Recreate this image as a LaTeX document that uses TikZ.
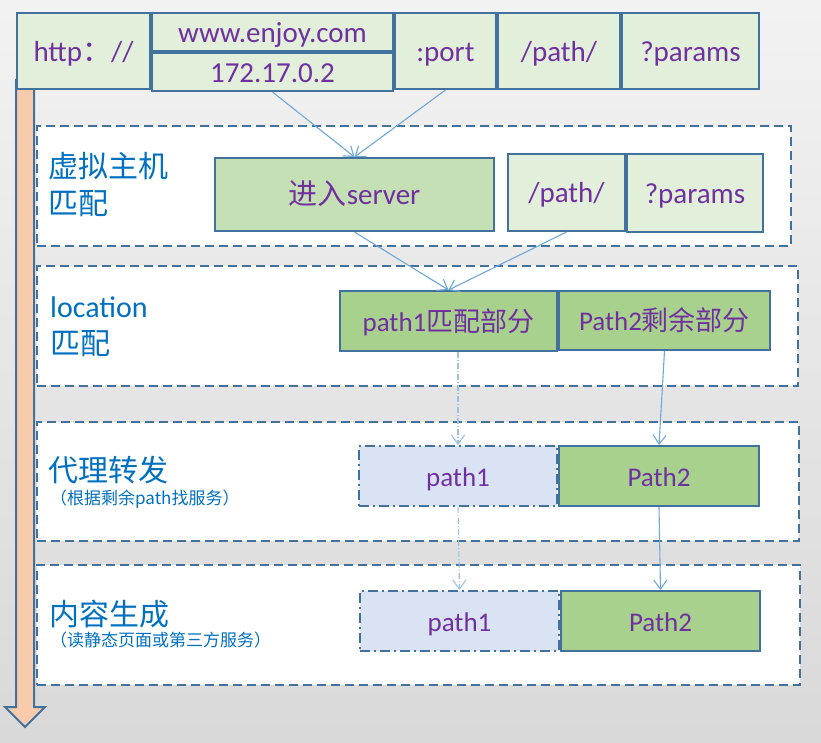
\documentclass[tikz,border=0pt]{standalone}
\usepackage{fontspec}
\setmainfont{Carlito}
\newfontfamily\cjk{Noto Sans CJK SC}
\usetikzlibrary{positioning, arrows.meta}
\definecolor{edgeblue}{HTML}{41719C}
\definecolor{txtpurple}{HTML}{7030A0}
\definecolor{lblblue}{HTML}{0070C0}
\definecolor{lgreen}{HTML}{E2EFDA}
\definecolor{mgreen}{HTML}{C5E0B4}
\definecolor{dgreen}{HTML}{A9D18E}
\definecolor{lblue}{HTML}{DAE3F3}
\definecolor{arrowblue}{HTML}{6FA8DC}
\definecolor{axisorange}{HTML}{F8CBAD}
\tikzset{main node/.style={rectangle, draw=edgeblue, line width=2pt, inner sep=0pt, anchor=north west, text=txtpurple, text height=25pt, text depth=4pt, font=\fontsize{29}{31}\selectfont},
url node/.style={main node, fill=lgreen},
part node/.style={main node, fill=dgreen, text height=23pt, text depth=3pt, font=\fontsize{27}{29}\selectfont},
rest node/.style={part node, fill=lblue, dash pattern=on 10pt off 4pt on 2pt off 4pt},
layer node/.style={rectangle, draw=edgeblue, line width=2pt, fill=white, inner sep=0pt, anchor=north west, dash pattern=on 9pt off 5pt},
layer label/.style={anchor=north west, inner sep=0pt, align=left, text=lblblue, font=\cjk\fontsize{30}{37}\selectfont},
layer note/.style={anchor=north west, inner sep=0pt, text=lblblue, font=\cjk\fontsize{17}{19}\selectfont},
flow line/.style={draw=arrowblue, line width=1.1pt, -{Straight Barb[length=9pt,width=13pt]}},
flow dotted/.style={flow line, draw=arrowblue!70, dash pattern=on 6pt off 2pt on 1pt off 2pt},}

\begin{document}
\begin{tikzpicture}[x=1pt, y=-1pt]
        \useasboundingbox (0,0) rectangle (821,743);
        \shade[top color=black!5, bottom color=black!15] (0,0) rectangle (821,743);
        % Layers
        \node[layer node, minimum width=754pt, minimum height=120pt] (L1) at (36,125) {};
        \node[layer node, minimum width=761pt, minimum height=120pt] (L2) at (36,265) {};
        \node[layer node, minimum width=762pt, minimum height=119pt] (L3) at (36,421) {};
        \node[layer node, minimum width=763pt, minimum height=120pt] (L4) at (36,564) {};
        \node[layer label] (T1) at (48,152) {虚拟主机\\匹配};
        \node[layer label] (T2) at (50,296) {{\rmfamily location}\\匹配};
        \node[layer label] (T3) at (48,456) {代理转发};
        \node[layer note] (S3) at (50,490) {（根据剩余path找服务）};
        \node[layer label] (T4) at (49,600) {内容生成};
        \node[layer note] (S4) at (50,632) {（读静态页面或第三方服务）};
        % Time axis
        \draw[draw=edgeblue, line width=2pt, fill=axisorange]
        (16,80) -- (34,80) -- (34,707) -- (45,707) -- (25,727) -- (5,707) -- (16,707) -- cycle;
        % URL
        \node[url node, minimum width=133pt, minimum height=76pt] (1) at (16,12) {http{\cjk ：}//};
        \node[url node, minimum width=241pt, minimum height=38pt] (2) at (1.north east) {www.enjoy.com};
        \node[url node, minimum width=241pt, minimum height=38pt] (3) at (2.south west) {172.17.0.2};
        \node[url node, minimum width=101pt, minimum height=76pt] (4) at (2.north east) {:port};
        \node[url node, minimum width=122pt, minimum height=76pt] (5) at (4.north east) {/path/};
        \node[url node, minimum width=137pt, minimum height=76pt] (6) at (5.north east) {?params};
        % Virtual host
        \node[main node, fill=mgreen, minimum width=279pt, minimum height=73pt] (7) at (214,157) {{\cjk 进入}server};
        \node[url node, minimum width=117pt, minimum height=77pt] (8) at (507,153) {/path/};
        \node[url node, minimum width=136pt, minimum height=78pt] (9) at (8.north east) {?params};
        % Location
        \node[part node, minimum width=217pt, minimum height=60pt] (10) at (339,290) {path1{\cjk 匹配部分}};
        \node[part node, minimum width=211pt, minimum height=59pt] (11) at (10.north east) {Path2{\cjk 剩余部分}};
        % Proxy
        \node[rest node, minimum width=198pt, minimum height=60pt] (12) at (358,445) {path1};
        \node[part node, minimum width=200pt, minimum height=60pt] (13) at (12.north east) {Path2};
        % Content
        \node[rest node, minimum width=199pt, minimum height=60pt] (14) at (359,590) {path1};
        \node[part node, minimum width=199pt, minimum height=60pt] (15) at (14.north east) {Path2};
        % Paths
        \draw[flow line] (3.south) -- (7.north);
        \draw[flow line] (4.south) -- (7.north);
        \draw[flow line] (7.south) -- (10.north);
        \draw[flow line] (8.south) -- (10.north);
        \draw[flow dotted] (12.north |- 10.south) -- (12.north);
        \draw[flow line] (11.south) -- (13.north);
        \draw[flow dotted] (12.south) -- (14.north);
        \draw[flow line] (13.south) -- (15.north);
    \end{tikzpicture}
\end{document}
